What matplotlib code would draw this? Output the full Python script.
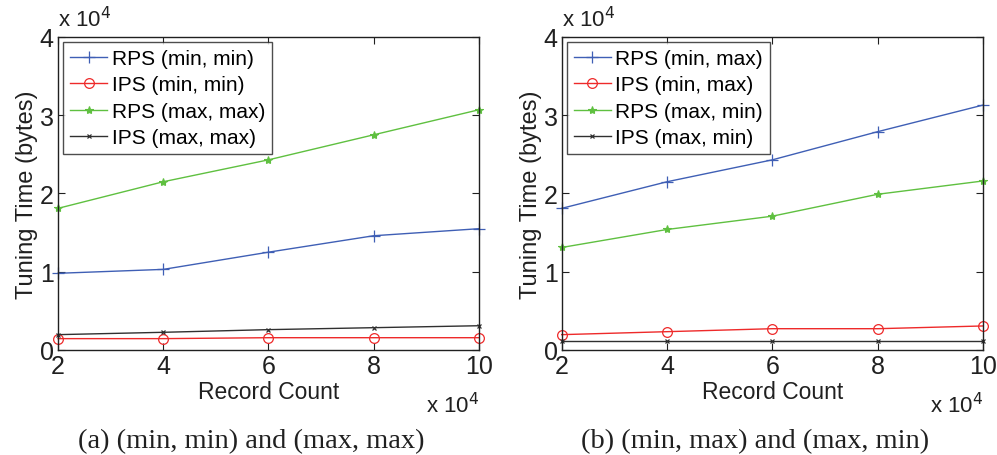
import numpy as np
import matplotlib
matplotlib.use("Agg")
import matplotlib.pyplot as plt

plt.rcParams['font.family'] = ['Liberation Sans', 'DejaVu Sans']

# record counts (x 10^4)
counts = [2, 4, 6, 8, 10]

# (a) (min, min) and (max, max), tuning time in units of 10^4 bytes
rps_minmin = [0.98, 1.03, 1.25, 1.46, 1.55]
ips_minmin = [0.145, 0.145, 0.157, 0.157, 0.157]
rps_maxmax = [1.81, 2.15, 2.43, 2.75, 3.07]
ips_maxmax = [0.196, 0.226, 0.26, 0.285, 0.31]

# (b) (min, max) and (max, min)
rps_minmax = [1.81, 2.15, 2.43, 2.79, 3.13]
ips_minmax = [0.196, 0.234, 0.272, 0.272, 0.307]
rps_maxmin = [1.31, 1.54, 1.71, 1.99, 2.16]
ips_maxmin = [0.12, 0.12, 0.12, 0.12, 0.12]

labels_a = ['RPS (min, min)', 'IPS (min, min)', 'RPS (max, max)', 'IPS (max, max)']
labels_b = ['RPS (min, max)', 'IPS (min, max)', 'RPS (max, min)', 'IPS (max, min)']
captions = ['(a) (min, min) and (max, max)', '(b) (min, max) and (max, min)']

styles = [
    dict(color='#3f5fb5', marker='+', markersize=8, mew=0.9),
    dict(color='#ee2a2a', marker='o', markersize=7, mfc='none', mew=0.9),
    dict(color='#5fc040', marker='*', markersize=6, mew=0.8),
    dict(color='#303030', marker='x', markersize=3.5, mew=0.9),
]

fig = plt.figure(figsize=(9.97, 4.56), dpi=100)
ax_a = fig.add_axes([0.0582, 0.2303, 0.4222, 0.6864])
ax_b = fig.add_axes([0.5634, 0.2303, 0.4226, 0.6864])

panels = [
    (ax_a, [rps_minmin, ips_minmin, rps_maxmax, ips_maxmax], labels_a),
    (ax_b, [rps_minmax, ips_minmax, rps_maxmin, ips_maxmin], labels_b),
]

for ax, series, labels in panels:
    for ys, lab, st in zip(series, labels, styles):
        ax.plot(counts, ys, lw=1.0, label=lab, clip_on=False, **st)
    ax.set_xlim(2, 10)
    ax.set_ylim(0, 4)
    ax.set_xticks([2, 4, 6, 8, 10])
    ax.set_yticks([0, 1, 2, 3, 4])
    ax.tick_params(direction='in', top=True, right=True, labelsize=18,
                   length=5, width=0.8, colors='#202020')
    ax.tick_params(axis='x', pad=3)
    ax.tick_params(axis='y', pad=3)
    for sp in ax.spines.values():
        sp.set_linewidth(1.0)
        sp.set_color('#202020')
    ax.set_xlabel('Record Count', fontsize=16.5, labelpad=1, color='#202020')
    ax.set_ylabel('Tuning Time (bytes)', fontsize=17, labelpad=1, color='#202020')
    ax.text(0.0, 1.02, r'x 10$^4$', transform=ax.transAxes, fontsize=16,
            ha='left', va='bottom', color='#202020')
    ax.text(1.0, -0.135, r'x 10$^4$', transform=ax.transAxes, fontsize=16,
            ha='right', va='top', color='#202020')
    leg = ax.legend(loc='upper left', fontsize=15, frameon=True, fancybox=False,
                    borderaxespad=0.25, handlelength=1.8, handletextpad=0.2,
                    labelspacing=0.36, borderpad=0.32)
    leg.get_frame().set_edgecolor('#202020')
    leg.get_frame().set_linewidth(1.0)

# captions sit slightly left of each axes centre
for ax, cap in zip([ax_a, ax_b], captions):
    ax.text(0.46, -0.25, cap, transform=ax.transAxes, ha='center', va='top',
            fontsize=20.5, family='Liberation Serif', color='#202020')

fig.savefig('out.png', dpi=100)
